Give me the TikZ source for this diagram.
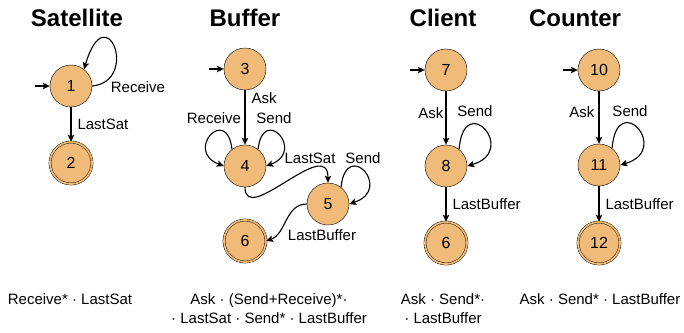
\documentclass[tikz,border=0pt]{standalone}
\usepackage{fontspec}
\setmainfont{Liberation Sans}
\usetikzlibrary{automata,arrows.meta}
\definecolor{stateorange}{RGB}{240,186,120}

\begin{document}
\begin{tikzpicture}[x=1pt,y=1pt,
		every state/.style={draw,thin,fill=stateorange,minimum size=42pt,inner sep=0pt,font=\fontsize{16}{19}\selectfont},
		accepting/.style={double=stateorange,double distance=1.8pt},
		initial text=,initial distance=15pt,
		every initial by arrow/.style={trans},
		trans/.style={line width=1.1pt,-{Stealth[length=7pt,width=6.5pt,inset=1.5pt]}},
		lbl/.style={font=\fontsize{15}{18}\selectfont,inner sep=2pt},
		title/.style={font=\fontsize{24}{28}\selectfont\bfseries},
		regex/.style={font=\fontsize{15}{19}\selectfont,align=center}]
			\useasboundingbox (0,0) rectangle (684,-332);

			\node[title] (tsat) at (77,-18) {Satellite};
			\node[title] (tbuf) at (245,-18) {Buffer};
			\node[title] (tcli) at (443,-18) {Client};
			\node[title] (tcnt) at (575,-18) {Counter};

			\node[state,initial] (n1) at (71,-86) {1};
			\node[state,accepting] (n2) at (71,-163) {2};
			\draw[trans] (n1) -- node[lbl,right=4pt] {LastSat} (n2);
			\draw[trans] (n1.east) .. controls +(48,5) and +(22,75) .. (n1.52);
			\node[lbl] (lrecv) at (138,-87) {Receive};

			\node[state,initial] (n3) at (245,-69) {3};
			\node[state] (n4) at (245,-166) {4};
			\node[state] (n5) at (328,-204) {5};
			\node[state,accepting] (n6) at (245,-241) {6};
			\draw[trans] (n3) -- node[lbl,right=4pt,pos=.15] {Ask} (n4);
			\draw[trans] (n4.128) .. controls +(-5,45) and +(-40,15) .. (n4.west);
			\draw[trans] (n4.52) .. controls +(5,45) and +(40,15) .. (n4.east);
			\node[lbl] (lbrecv) at (214,-118) {Receive};
			\node[lbl] (lbsend) at (274,-118) {Send};
			\draw[trans] (n4.south) .. controls +(0,-40) and +(0,48) .. (n5.north);
			\node[lbl] (lblast) at (310,-158) {LastSat};
			\draw[trans] (n5.52) .. controls +(5,50) and +(45,15) .. (n5.east);
			\node[lbl] (lbsend5) at (363,-158) {Send};
			\draw[trans] (n5.west) to[out=180,in=20] (n6.east);
			\node[lbl] (lbbuf) at (322,-235) {LastBuffer};

			\node[state,initial] (n7) at (446,-70) {7};
			\node[state] (n8) at (446,-166) {8};
			\node[state,accepting] (c6) at (446,-243) {6};
			\draw[trans] (n7) -- node[lbl,left,pos=.4] {Ask} (n8);
			\draw[trans] (n8.52) .. controls +(5,60) and +(52,15) .. (n8.east);
			\node[lbl] (lcsend) at (475,-111) {Send};
			\draw[trans] (n8) -- node[lbl,right=4pt] {LastBuffer} (c6);

			\node[state,initial] (n10) at (599,-70) {10};
			\node[state] (n11) at (599,-165) {11};
			\node[state,accepting] (n12) at (599,-243) {12};
			\draw[trans] (n10) -- node[lbl,left=2pt,pos=.4] {Ask} (n11);
			\draw[trans] (n11.52) .. controls +(5,60) and +(52,15) .. (n11.east);
			\node[lbl] (lksend) at (630,-111) {Send};
			\draw[trans] (n11) -- node[lbl,right=4pt] {LastBuffer} (n12);

			\node[regex] (rsat) at (70,-299) {Receive* · LastSat};
			\node[regex] (rbuf) at (269,-308.5) {Ask · (Send+Receive)*·\\· LastSat · Send* · LastBuffer};
			\node[regex] (rcli) at (443,-308.5) {Ask · Send*·\\· LastBuffer};
			\node[regex] (rcnt) at (600,-299) {Ask · Send* · LastBuffer};
		\end{tikzpicture}
\end{document}
